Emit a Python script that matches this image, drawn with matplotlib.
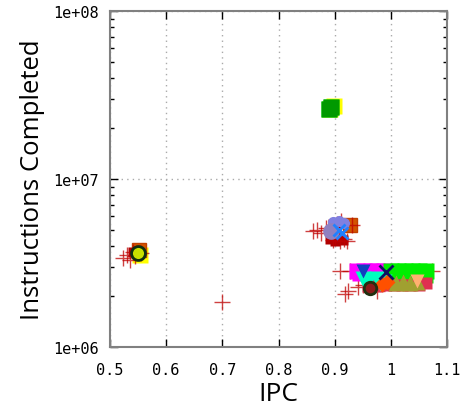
import matplotlib.pyplot as plt
from matplotlib.ticker import LogLocator, NullFormatter, FixedLocator
import numpy as np

# red "+" samples
plus_x = [0.523, 0.530, 0.536, 0.541, 0.545, 0.556,
          0.861, 0.868, 0.875, 0.884, 0.897, 0.904, 0.910, 0.916, 0.922, 0.930, 0.900, 0.912,
          0.909, 0.927, 0.918, 0.924, 0.941, 0.950, 0.975, 0.960, 1.073, 0.700]
plus_y = [3.40e6, 3.55e6, 3.30e6, 3.70e6, 3.50e6, 3.65e6,
          4.90e6, 5.00e6, 4.80e6, 5.10e6, 4.33e6, 5.40e6, 4.25e6, 4.40e6, 4.30e6, 5.30e6, 4.60e6, 5.60e6,
          2.83e6, 2.85e6, 2.07e6, 2.15e6, 2.28e6, 2.35e6, 2.16e6, 2.55e6, 2.83e6, 1.85e6]

# dark red squares
sq_x = [0.541, 0.892, 0.900, 0.908, 0.915, 0.897, 0.905, 0.888, 0.893]
sq_y = [3.70e6, 4.40e6, 4.30e6, 4.55e6, 4.35e6, 5.40e6, 5.50e6, 2.60e7, 2.75e7]

# yellow squares
ysq_x = [0.898, 0.892, 0.553]
ysq_y = [2.72e7, 2.62e7, 3.55e6]

# green squares
gsq_x = [0.890, 0.894, 1.000, 1.012, 1.025, 1.038, 1.050, 1.062, 1.000, 1.030, 1.060]
gsq_y = [2.62e7, 2.68e7, 2.82e6, 2.82e6, 2.82e6, 2.82e6, 2.82e6, 2.82e6, 2.68e6, 2.68e6, 2.68e6]

# magenta squares
mag_x = [0.940, 0.952, 0.964, 0.976, 0.988, 0.945, 0.970]
mag_y = [2.85e6, 2.85e6, 2.85e6, 2.85e6, 2.85e6, 2.75e6, 2.75e6]

# lavender / periwinkle
lav_x = [0.897, 0.907, 0.917]
lav_y = [5.55e6, 5.60e6, 5.50e6]

# orange-brown squares
or_x = [0.927, 0.552]
or_y = [5.35e6, 3.80e6]

# purple ellipse
pur_x = [0.893]
pur_y = [4.90e6]

# blue crosses
bx_x = [0.913, 0.907]
bx_y = [4.80e6, 4.95e6]

# cyan triangles
cy_x = [0.950, 0.962, 0.975, 0.988, 0.955, 0.980]
cy_y = [2.55e6, 2.50e6, 2.55e6, 2.45e6, 2.40e6, 2.40e6]

# blue down triangles
bt_x = [0.950]
bt_y = [2.85e6]

# olive triangles
ol_x = [1.010, 1.022, 1.035, 1.047]
ol_y = [2.42e6, 2.45e6, 2.40e6, 2.44e6]

# red/crimson bottom
cr_x = [0.960, 0.975, 0.990, 1.005, 1.020, 1.035, 1.050, 1.062]
cr_y = [2.30e6, 2.32e6, 2.35e6, 2.35e6, 2.35e6, 2.35e6, 2.35e6, 2.40e6]

# orange diamonds
od_x = [0.993, 0.985]
od_y = [2.45e6, 2.38e6]

# light orange V
lo_x = [1.047]
lo_y = [2.48e6]

# navy X
nx_x = [0.991]
nx_y = [2.80e6]

# dark circle
dc_x = [0.963]
dc_y = [2.25e6]

# yellow-green circle
yg_x = [0.550]
yg_y = [3.62e6]

fig = plt.figure(figsize=(4.62, 4.14), dpi=100)
ax = fig.add_axes([110/462, 1-348/414, 337/462, 336/414])

ax.plot(ysq_x, ysq_y, 's', color='#ffff00', ms=12, mec='none')
ax.plot(or_x, or_y, 's', color='#d35400', ms=10, mec='#c04000')
ax.plot(sq_x, sq_y, 's', color='#b00000', ms=7, mec='none')
ax.plot(plus_x, plus_y, '+', color='#c00000', ms=11, mew=1.0, alpha=0.75)
ax.plot(lav_x, lav_y, 'o', color='#8080e0', ms=8, mec='none')
ax.plot(mag_x, mag_y, 's', color='#ff00ff', ms=11, mec='none')
ax.plot(gsq_x, gsq_y, 's', color='#00ee00', ms=11, mec='none')
ax.plot(gsq_x[:2], gsq_y[:2], 's', color='#009900', ms=11, mec='none')
ax.plot(cr_x, cr_y, 's', color='#e03050', ms=8, mec='none')
ax.plot(cy_x, cy_y, 'v', color='#00ffc0', ms=12, mec='none')
ax.plot(ol_x, ol_y, '^', color='#a0a030', ms=11, mec='none')
ax.plot(od_x, od_y, 'D', color='#ff5000', ms=8, mec='none')
ax.plot(lo_x, lo_y, 'v', color='#ffb070', ms=10, mec='none')
ax.plot(bt_x, bt_y, 'v', color='#1040c0', ms=10, mec='none')
ax.plot(pur_x, pur_y, 'o', color='#9080c0', ms=12, mec='none')
ax.plot(bx_x, bx_y, 'x', color='#2080ff', ms=9, mew=2)
ax.plot(nx_x, nx_y, 'x', color='#101060', ms=10, mew=2)
ax.plot(dc_x, dc_y, 'o', color='#8b1a1a', ms=9, mec='#203010', mew=2)
ax.plot(yg_x, yg_y, 'o', color='#c8e000', ms=10, mec='#103010', mew=2)

ax.set_yscale('log')
ax.set_xlim(0.5, 1.1)
ax.set_ylim(1e6, 1e8)
ax.xaxis.set_major_locator(FixedLocator([0.5, 0.6, 0.7, 0.8, 0.9, 1.0, 1.1]))
ax.set_xticklabels(['0.5', '0.6', '0.7', '0.8', '0.9', '1', '1.1'])
ax.yaxis.set_major_locator(FixedLocator([1e6, 1e7, 1e8]))
ax.set_yticklabels(['1e+06', '1e+07', '1e+08'])
ax.yaxis.set_minor_locator(LogLocator(base=10, subs=np.arange(2, 10)))
ax.yaxis.set_minor_formatter(NullFormatter())
ax.tick_params(which='both', direction='in', top=True, right=True, color='black',
               labelsize=11, labelfontfamily='DejaVu Sans Mono')
ax.tick_params(which='major', length=6, width=1)
ax.tick_params(which='minor', length=3, width=1)
ax.tick_params(axis='x', pad=11)
ax.tick_params(axis='y', pad=8)
for s in ax.spines.values():
    s.set_color('#808080')
    s.set_linewidth(1.5)
ax.grid(True, which='major', linestyle=(0, (1, 3)), color='#aaaaaa', linewidth=1)

ax.set_xlabel('IPC', fontsize=19, family='Open Sans', labelpad=3)
ax.set_ylabel('Instructions Completed', fontsize=18.5, family='Open Sans', labelpad=6)

fig.savefig('out.png', dpi=100)
